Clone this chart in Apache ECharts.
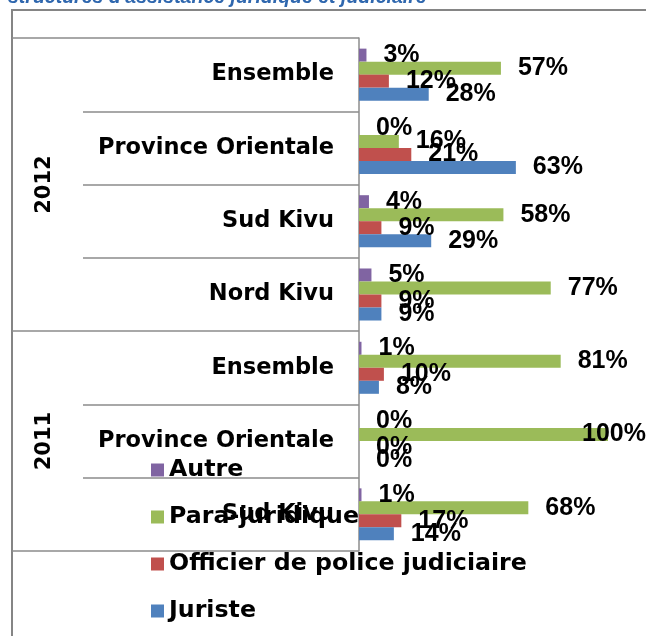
<!DOCTYPE html>
<html>
<head>
<meta charset="utf-8">
<script src="https://cdn.jsdelivr.net/npm/echarts@6/dist/echarts.min.js"></script>
<style>
  html, body { margin: 0; padding: 0; background: #fff; }
  #chart { width: 646px; height: 636px; }
</style>
</head>
<body>
<div id="chart"></div>
<script>
// Regions surveyed each year (top to bottom)
const regions2012 = ['Ensemble', 'Province Orientale', 'Sud Kivu', 'Nord Kivu'];
const regions2011 = ['Ensemble', 'Province Orientale', 'Sud Kivu'];
const years = ['2012', '2011'];

// Share of each type of structure (%), same order as the regions above
const seriesNames = ['Autre', 'Para-juridique', 'Officier de police judiciaire', 'Juriste'];
const autre = [3, 0, 4, 5, 1, 0, 1];
const paraJuridique = [57, 16, 58, 77, 81, 100, 68];
const officierPolice = [12, 21, 9, 9, 10, 0, 17];
const juriste = [28, 63, 29, 9, 8, 0, 14];

const categories = regions2012.concat(regions2011);
const groupSizes = [regions2012.length, regions2011.length];

// Group boundaries and centres along the category axis (in band units)
const groupEdges = [0];
groupSizes.forEach(n => groupEdges.push(groupEdges[groupEdges.length - 1] + n));
const groupCentres = groupSizes.map((n, i) => groupEdges[i] + n / 2);

const FONT = '"DejaVu Sans", sans-serif';
const VALUE_FONT = '"Liberation Sans", Arial, sans-serif';
const LINE = '#8c8c8c';
const X_MAX = 100;
const colors = ['#8064A2', '#9BBB59', '#C0504D', '#4F81BD'];

// A value label that would run past the plot edge is pulled back over its bar
function toItems(values) {
  return values.map(v => v >= X_MAX ? { value: v, label: { distance: -26 } } : v);
}

const seriesValues = [autre, paraJuridique, officierPolice, juriste];

const chart = echarts.init(document.getElementById('chart'));
chart.setOption({
  animation: false,
  textStyle: { fontFamily: FONT },
  color: colors,
  legend: {
    data: seriesNames,
    orient: 'vertical',
    left: 151,
    top: 458,
    padding: 0,
    icon: 'rect',
    itemWidth: 13,
    itemHeight: 13,
    itemGap: 23,
    textStyle: { fontFamily: FONT, fontWeight: 'bold', fontSize: 23.7, lineHeight: 24, color: '#000' }
  },
  grid: { left: 359, top: 38, width: 249, height: 513, outerBoundsMode: 'none' },
  xAxis: {
    type: 'value', min: 0, max: X_MAX, show: false
  },
  yAxis: [
    {
      type: 'category',
      inverse: true,
      data: categories,
      axisLine: { show: true, lineStyle: { color: LINE, width: 1.5 } },
      axisTick: { show: true, interval: 0, length: 276, lineStyle: { color: LINE, width: 1.5 } },
      axisLabel: {
        interval: 0, margin: 25, color: '#000',
        fontFamily: FONT, fontWeight: 'bold', fontSize: 22.5
      },
      splitLine: { show: false }
    },
    {
      type: 'value',
      inverse: true,
      min: 0,
      max: categories.length,
      position: 'left',
      axisLine: { show: false },
      splitLine: { show: false },
      axisTick: {
        show: true, length: 347, customValues: groupEdges,
        lineStyle: { color: LINE, width: 1.5 }
      },
      axisLabel: {
        show: true, rotate: 90, margin: 304, color: '#000',
        fontFamily: FONT, fontWeight: 'bold', fontSize: 21,
        customValues: groupCentres,
        formatter: v => years[groupCentres.indexOf(v)]
      }
    }
  ],
  series: seriesNames.map((name, i) => ({
    name: name,
    type: 'bar',
    yAxisIndex: 0,
    data: toItems(seriesValues[i]),
    barGap: '0%',
    barCategoryGap: '29%',
    label: {
      show: true, position: 'right', distance: 17,
      formatter: '{c}%', color: '#000',
      fontFamily: VALUE_FONT, fontWeight: 'bold', fontSize: 25
    }
  })),
  graphic: [
    {
      type: 'rect', z: -1, silent: true,
      shape: { x: 12, y: 10, width: 700, height: 700 },
      style: { fill: 'none', stroke: '#858585', lineWidth: 2 }
    },
    {
      type: 'text', left: 8, top: -12.5, silent: true,
      style: {
        text: "structures d'assistance juridique et judiciaire",
        font: 'italic bold 19.5px "Liberation Sans", sans-serif',
        fill: '#2F67AE'
      }
    }
  ]
});
</script>
</body>
</html>
